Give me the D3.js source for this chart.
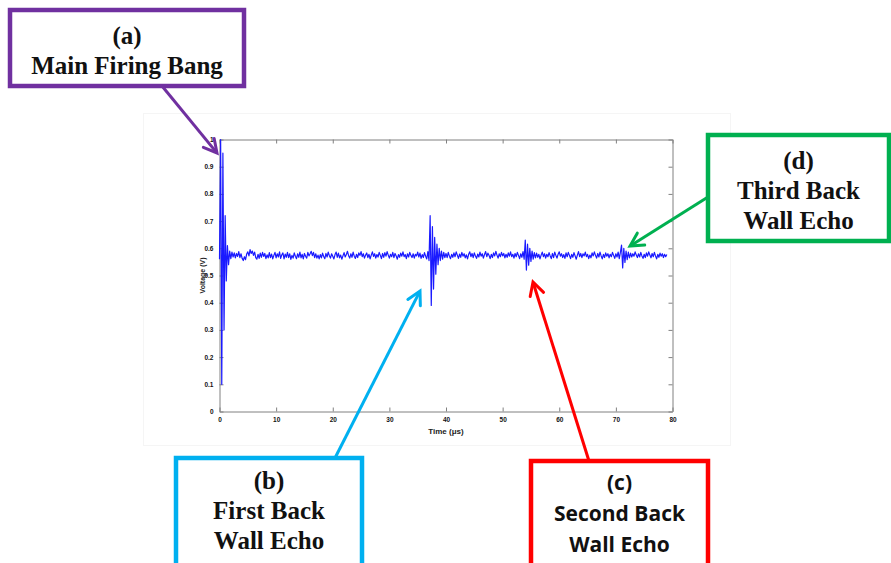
<!DOCTYPE html>
<html>
<head>
<meta charset="utf-8">
<script src="https://cdn.jsdelivr.net/npm/d3@7"></script>
<style>
  body { margin: 0; background: #fff; }
  svg { display: block; }
</style>
</head>
<body>
<svg id="chart" width="891" height="563"></svg>
<script>
// sample spacing of the trace (µs)
var sampleStep = 0.2;

// voltage samples, one row = 2 µs
var voltage = [
  0.560, 1.000, 0.100, 0.950, 0.300, 0.720, 0.480, 0.610, 0.540, 0.590,
  0.562, 0.586, 0.568, 0.583, 0.565, 0.581, 0.570, 0.588, 0.566, 0.580,
  0.563, 0.555, 0.569, 0.558, 0.579, 0.587, 0.572, 0.595, 0.581, 0.590,
  0.574, 0.586, 0.566, 0.560, 0.578, 0.563, 0.582, 0.567, 0.585, 0.570,
  0.581, 0.562, 0.576, 0.565, 0.584, 0.566, 0.579, 0.561, 0.574, 0.585,
  0.565, 0.580, 0.568, 0.587, 0.563, 0.576, 0.583, 0.561, 0.579, 0.567,
  0.585, 0.566, 0.580, 0.559, 0.574, 0.564, 0.583, 0.571, 0.562, 0.580,
  0.567, 0.586, 0.565, 0.578, 0.561, 0.581, 0.571, 0.564, 0.585, 0.572,
  0.580, 0.589, 0.573, 0.585, 0.566, 0.580, 0.564, 0.575, 0.561, 0.577,
  0.565, 0.582, 0.570, 0.562, 0.581, 0.568, 0.586, 0.573, 0.564, 0.580,
  0.571, 0.561, 0.577, 0.586, 0.567, 0.582, 0.565, 0.575, 0.560, 0.572,
  0.584, 0.568, 0.577, 0.589, 0.573, 0.564, 0.580, 0.567, 0.586, 0.571,
  0.563, 0.578, 0.566, 0.583, 0.574, 0.588, 0.569, 0.580, 0.564, 0.575,
  0.583, 0.566, 0.578, 0.561, 0.575, 0.587, 0.570, 0.580, 0.564, 0.577,
  0.568, 0.585, 0.574, 0.562, 0.581, 0.567, 0.584, 0.571, 0.588, 0.575,
  0.564, 0.578, 0.569, 0.585, 0.566, 0.581, 0.572, 0.560, 0.577, 0.567,
  0.582, 0.571, 0.587, 0.569, 0.577, 0.562, 0.580, 0.568, 0.585, 0.574,
  0.566, 0.580, 0.564, 0.578, 0.572, 0.586, 0.568, 0.582, 0.563, 0.577,
  0.566, 0.584, 0.571, 0.561, 0.588, 0.555, 0.720, 0.390, 0.680, 0.450,
  0.640, 0.505, 0.615, 0.540, 0.600, 0.555, 0.590, 0.560, 0.585, 0.566,
  0.581, 0.566, 0.585, 0.571, 0.562, 0.578, 0.567, 0.583, 0.569, 0.587,
  0.575, 0.563, 0.579, 0.567, 0.585, 0.571, 0.580, 0.565, 0.576, 0.561,
  0.578, 0.587, 0.569, 0.581, 0.566, 0.583, 0.572, 0.563, 0.579, 0.568,
  0.586, 0.571, 0.580, 0.564, 0.577, 0.588, 0.569, 0.582, 0.574, 0.562,
  0.578, 0.566, 0.583, 0.572, 0.589, 0.575, 0.564, 0.580, 0.569, 0.585,
  0.572, 0.581, 0.565, 0.578, 0.567, 0.583, 0.571, 0.587, 0.569, 0.578,
  0.564, 0.581, 0.569, 0.585, 0.574, 0.562, 0.580, 0.567, 0.588, 0.560,
  0.630, 0.520, 0.615, 0.538, 0.600, 0.552, 0.590, 0.560, 0.584, 0.565,
  0.582, 0.567, 0.578, 0.561, 0.575, 0.586, 0.569, 0.580, 0.564, 0.578,
  0.569, 0.584, 0.572, 0.562, 0.581, 0.566, 0.586, 0.574, 0.564, 0.578,
  0.587, 0.571, 0.580, 0.566, 0.577, 0.563, 0.583, 0.569, 0.585, 0.574,
  0.562, 0.578, 0.567, 0.584, 0.572, 0.560, 0.575, 0.588, 0.569, 0.581,
  0.566, 0.580, 0.572, 0.586, 0.569, 0.578, 0.562, 0.575, 0.565, 0.583,
  0.572, 0.587, 0.574, 0.564, 0.581, 0.568, 0.586, 0.572, 0.561, 0.578,
  0.566, 0.583, 0.571, 0.580, 0.565, 0.578, 0.569, 0.585, 0.574, 0.563,
  0.580, 0.568, 0.586, 0.562, 0.585, 0.612, 0.528, 0.600, 0.548, 0.590,
  0.558, 0.586, 0.565, 0.582, 0.568, 0.580, 0.571, 0.587, 0.575, 0.566,
  0.580, 0.568, 0.585, 0.572, 0.563, 0.578, 0.566, 0.583, 0.571, 0.587,
  0.575, 0.565, 0.581, 0.569, 0.585, 0.572, 0.561, 0.578, 0.567, 0.582,
  0.571, 0.580, 0.566, 0.578, 0.569, 0.577
];

var xTicks = [0, 10, 20, 30, 40, 50, 60, 70, 80];
var yTicks = [0, 0.1, 0.2, 0.3, 0.4, 0.5, 0.6, 0.7, 0.8, 0.9, 1];
var xLabel = "Time (\u03bcs)";
var yLabel = "Voltage (V)";

// callouts: label lines and colour
var callouts = [
  { lines: ["(a)", "Main Firing Bang"], color: "#7030a0", font: "serif" },
  { lines: ["(b)", "First Back", "Wall Echo"], color: "#00b0f0", font: "serif" },
  { lines: ["(c)", "Second Back", "Wall Echo"], color: "#ff0000", font: "sans" },
  { lines: ["(d)", "Third Back", "Wall Echo"], color: "#00b050", font: "serif" }
];

var svg = d3.select("#chart");

// faint figure frame
svg.append("rect")
  .attr("x", 143.5).attr("y", 113.5)
  .attr("width", 587).attr("height", 332)
  .attr("fill", "#fff").attr("stroke", "#f5f5f5");

var x = d3.scaleLinear().domain([0, 80]).range([219.5, 672.5]);
var y = d3.scaleLinear().domain([0, 1]).range([411.5, 139.5]);

var axisFont = "'Liberation Sans', Arial, sans-serif";

function styleAxis(g, showLabels) {
  g.select(".domain").attr("stroke", "#808080");
  g.selectAll(".tick line").attr("stroke", "#808080");
  g.selectAll(".tick text")
    .attr("fill", "#111")
    .attr("font-family", axisFont)
    .attr("font-weight", "bold")
    .attr("font-size", "6.5px");
  if (!showLabels) g.selectAll(".tick text").remove();
}

svg.append("g")
  .attr("transform", "translate(0," + y(0) + ")")
  .call(d3.axisBottom(x).tickValues(xTicks).tickSizeInner(-4).tickSizeOuter(0).tickPadding(6).tickFormat(d3.format("d")))
  .call(styleAxis, true);

svg.append("g")
  .attr("transform", "translate(0," + y(1) + ")")
  .call(d3.axisTop(x).tickValues(xTicks).tickSizeInner(-4).tickSizeOuter(0))
  .call(styleAxis, false);

svg.append("g")
  .attr("transform", "translate(" + x(0) + ",0)")
  .call(d3.axisLeft(y).tickValues(yTicks).tickSizeInner(-4).tickSizeOuter(0).tickPadding(6).tickFormat(function (d) { return d === 0 || d === 1 ? d : d3.format(".1f")(d); }))
  .call(styleAxis, true);

svg.append("g")
  .attr("transform", "translate(" + x(80) + ",0)")
  .call(d3.axisRight(y).tickValues(yTicks).tickSizeInner(-4).tickSizeOuter(0))
  .call(styleAxis, false);

svg.append("text")
  .attr("x", (x(0) + x(80)) / 2).attr("y", 434)
  .attr("text-anchor", "middle")
  .attr("font-family", axisFont).attr("font-weight", "bold").attr("font-size", "8px")
  .attr("fill", "#222")
  .text(xLabel);

svg.append("text")
  .attr("transform", "translate(205," + y(0.5) + ") rotate(-90)")
  .attr("text-anchor", "middle")
  .attr("font-family", axisFont).attr("font-weight", "bold").attr("font-size", "7px")
  .attr("fill", "#222")
  .text(yLabel);

// trace
var line = d3.line()
  .x(function (d, i) { return x(i * sampleStep); })
  .y(function (d) { return y(d); });

svg.append("path")
  .datum(voltage)
  .attr("fill", "none")
  .attr("stroke", "#1a1aff")
  .attr("stroke-width", 1.2)
  .attr("stroke-linejoin", "round")
  .attr("d", line);

// callout boxes and arrows
var boxes = [
  { x: 10, y: 10, w: 234, h: 76, ty: 34, tail: [162, 86], tip: [217, 153] },
  { x: 176, y: 458, w: 186, h: 110, ty: 31, tail: [335, 458], tip: [420, 291] },
  { x: 531, y: 461, w: 177, h: 110, ty: 29, tail: [589, 461], tip: [533, 282] },
  { x: 708, y: 135, w: 181, h: 106, ty: 34, tail: [708, 197], tip: [630, 246] }
];

callouts.forEach(function (c, i) {
  var b = boxes[i];
  var g = svg.append("g");
  g.append("rect")
    .attr("x", b.x).attr("y", b.y).attr("width", b.w).attr("height", b.h)
    .attr("fill", "#fff").attr("stroke", c.color).attr("stroke-width", 4.5);

  var serif = c.font === "serif";
  var fs = serif ? 25 : 21;
  var lh = serif ? 30 : 31;
  c.lines.forEach(function (t, k) {
    g.append("text")
      .attr("x", b.x + b.w / 2)
      .attr("y", b.y + b.ty + k * lh)
      .attr("text-anchor", "middle")
      .attr("font-family", serif ? "'Liberation Serif', 'Times New Roman', serif" : "'Open Sans', 'Liberation Sans', sans-serif")
      .attr("font-weight", "bold")
      .attr("font-size", fs + "px")
      .attr("fill", "#111")
      .text(t);
  });

  var dx = b.tip[0] - b.tail[0], dy = b.tip[1] - b.tail[1];
  var len = Math.sqrt(dx * dx + dy * dy);
  var ux = dx / len, uy = dy / len;
  var hl = 13, hw = 7;
  svg.append("line")
    .attr("x1", b.tail[0]).attr("y1", b.tail[1])
    .attr("x2", b.tip[0] - ux * 1.5).attr("y2", b.tip[1] - uy * 1.5)
    .attr("stroke", c.color).attr("stroke-width", 3);
  var bx = b.tip[0] - ux * hl, by = b.tip[1] - uy * hl;
  svg.append("polyline")
    .attr("points", [
      [bx - uy * hw, by + ux * hw],
      b.tip,
      [bx + uy * hw, by - ux * hw]
    ].map(function (p) { return p.join(","); }).join(" "))
    .attr("fill", "none").attr("stroke", c.color).attr("stroke-width", 3)
    .attr("stroke-linecap", "round").attr("stroke-linejoin", "miter");
});
</script>
</body>
</html>
